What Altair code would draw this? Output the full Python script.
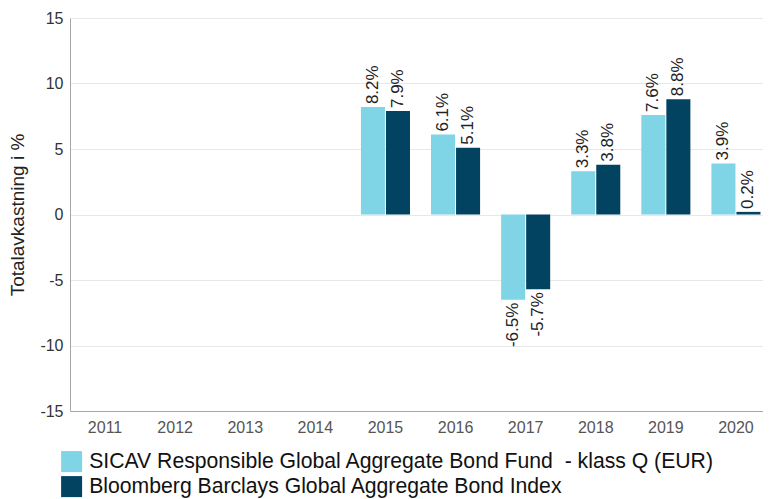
import altair as alt
import pandas as pd

years = ["2011", "2012", "2013", "2014", "2015", "2016", "2017", "2018", "2019", "2020"]
data_years = ["2015", "2016", "2017", "2018", "2019", "2020"]
series_names = [
    "SICAV Responsible Global Aggregate Bond Fund \u00a0- klass Q (EUR)",
    "Bloomberg Barclays Global Aggregate Bond Index",
]
fund_values = [8.2, 6.1, -6.5, 3.3, 7.6, 3.9]
index_values = [7.9, 5.1, -5.7, 3.8, 8.8, 0.2]
colors = ["#7fd4e6", "#024361"]
y_ticks = [-15, -10, -5, 0, 5, 10, 15]

rows = []
for y, f, b in zip(data_years, fund_values, index_values):
    rows.append({"year": y, "series": series_names[0], "value": f})
    rows.append({"year": y, "series": series_names[1], "value": b})
df = pd.DataFrame(rows)

x_enc = alt.X("year:N", scale=alt.Scale(domain=years, paddingInner=0.30, paddingOuter=0.15),
              axis=alt.Axis(title=None, labelAngle=0, ticks=False, grid=False,
                            labelFontSize=16, labelColor="#555555", labelPadding=8,
                            domainColor="#a6a6a6"))
xo_enc = alt.XOffset("series:N", scale=alt.Scale(domain=series_names, paddingInner=0.04))
y_scale = alt.Scale(domain=[-15, 15], nice=False)

base = alt.Chart(df)

bars = base.mark_bar().encode(
    x=x_enc,
    xOffset=xo_enc,
    y=alt.Y("value:Q", scale=y_scale,
            axis=alt.Axis(title="Totalavkastning i %", values=y_ticks, labelExpr="'' + datum.value",
                          ticks=False, labelFontSize=16, labelColor="#333333", labelPadding=7,
                          titleFontSize=19, titleFontWeight="normal", titleColor="#222222",
                          titlePadding=12, gridColor="#e8e8e8", domainColor="#a6a6a6")),
    color=alt.Color("series:N", scale=alt.Scale(domain=series_names, range=colors),
                    legend=alt.Legend(title=None, orient="none", legendX=-9, legendY=433,
                                      symbolType="square", symbolSize=441, symbolStrokeWidth=0,
                                      labelFontSize=21.2, labelColor="#111111", labelOffset=7,
                                      rowPadding=2, padding=0, labelLimit=800)),
)

labels_pos = base.transform_filter("datum.value >= 0").transform_calculate(
    label="datum.value + '%'"
).mark_text(angle=270, align="left", baseline="middle", dx=3, fontSize=17, color="#222222").encode(
    x=x_enc, xOffset=xo_enc, y=alt.Y("value:Q", scale=y_scale), text="label:N"
)

labels_neg = base.transform_filter("datum.value < 0").transform_calculate(
    label="datum.value + '%'"
).mark_text(angle=270, align="right", baseline="middle", dx=-3, fontSize=17, color="#222222").encode(
    x=x_enc, xOffset=xo_enc, y=alt.Y("value:Q", scale=y_scale), text="label:N"
)

chart = alt.layer(bars, labels_pos, labels_neg).properties(
    width=701, height=393,
    autosize=alt.AutoSizeParams(type="none"),
    padding={"left": 62, "top": 10, "right": -8, "bottom": 88},
).configure(font="Liberation Sans").configure_view(stroke=None)

chart.save("out.html", embed_options={"renderer": "svg", "actions": False})
